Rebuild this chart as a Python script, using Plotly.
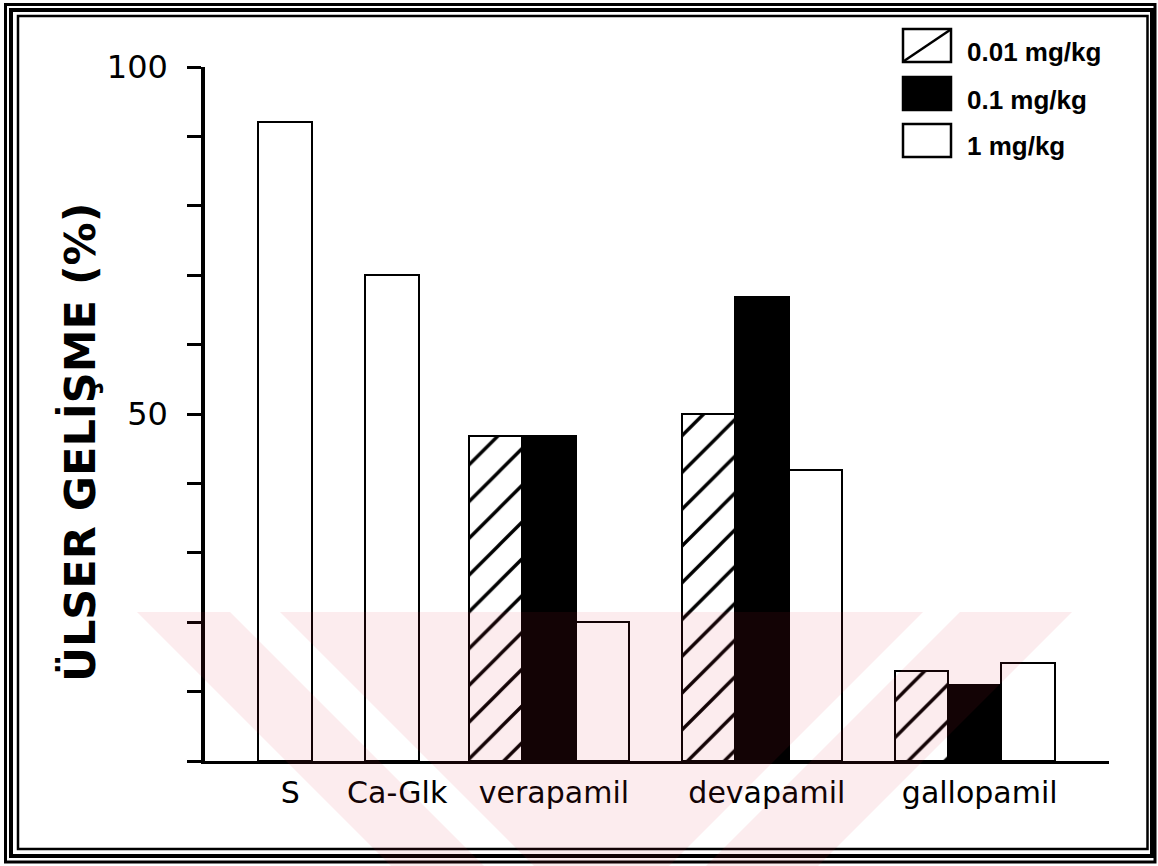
import plotly.graph_objects as go

# ---------------- data ----------------
categories = ["S", "Ca-Glk", "verapamil", "devapamil", "gallopamil"]
series_names = ["0.01 mg/kg", "0.1 mg/kg", "1 mg/kg"]
dose_001 = [None, None, 46.8, 50.0, 13.0]
dose_01 = [None, None, 46.8, 66.9, 11.0]
dose_1 = [92.1, 70.0, 20.0, 41.9, 14.1]
y_tick_values = [0, 10, 20, 30, 40, 50, 60, 70, 80, 90, 100]
y_tick_labels = ["", "", "", "", "", "50", "", "", "", "", "100"]
y_title = "ÜLSER GELİŞME (%)"

# ---------------- layout geometry ----------------
W, H = 1158, 866
L, R, T, B = 205, 49, 67, 105
PW, PH = W - L - R, H - T - B
cat_pos = [1.5, 3.5, 6.43, 10.41, 14.39]   # group centres in bar-width units
x_max = 16.9


def pxx(x):
    return (x - L) / PW


def pxy(y):
    return (H - B - y) / PH


series = [dose_001, dose_01, dose_1]
styles = [
    dict(color="white", pattern=dict(shape="/", size=26, solidity=0.13,
                                     fgcolor="black", fgopacity=1, bgcolor="white",
                                     fillmode="overlay")),
    dict(color="black"),
    dict(color="white"),
]

fig = go.Figure()
for i, (vals, name, st) in enumerate(zip(series, series_names, styles)):
    xs, ys = [], []
    for j, v in enumerate(vals):
        if v is None:
            continue
        single = sum(s[j] is not None for s in series) == 1
        xs.append(cat_pos[j] if single else cat_pos[j] + (i - 1))
        ys.append(v)
    marker = dict(color=st["color"], line=dict(color="black", width=2))
    if "pattern" in st:
        marker["pattern"] = st["pattern"]
    fig.add_trace(go.Bar(x=xs, y=ys, width=1, name=name, marker=marker,
                         showlegend=False, hoverinfo="skip"))

shapes = []
annotations = []

# custom legend
leg_rows = [(29, 62), (77, 110), (124, 157)]
for i, (name, (y0, y1)) in enumerate(zip(series_names, leg_rows)):
    fill = "black" if i == 1 else "white"
    shapes.append(dict(type="rect", xref="paper", yref="paper",
                       x0=pxx(903), x1=pxx(951), y0=pxy(y1), y1=pxy(y0),
                       fillcolor=fill, line=dict(color="black", width=2.5)))
    if i == 0:
        shapes.append(dict(type="line", xref="paper", yref="paper",
                           x0=pxx(904), x1=pxx(950), y0=pxy(y1 - 1), y1=pxy(y0 + 1),
                           line=dict(color="black", width=2.5)))
    annotations.append(dict(xref="paper", yref="paper", x=pxx(965), y=pxy((y0 + y1) / 2 + 6),
                            text="<b>%s</b>" % name, showarrow=False, xanchor="left",
                            yanchor="middle",
                            font=dict(family="Arial, Liberation Sans", size=26, color="black")))

# y-axis title
annotations.append(dict(xref="paper", yref="paper", x=pxx(80), y=pxy(443), text=y_title,
                        textangle=-90, showarrow=False, xanchor="center", yanchor="middle",
                        font=dict(family="DejaVu Sans", size=43, color="black",
                                  weight="bold")))

# frame (triple border)
for (x0, y0, x1, y1, w) in [(5.5, 4.5, 1155, 862, 3), (11, 10, 1152, 856, 4),
                            (18, 16, 1147.5, 849, 2.5)]:
    shapes.append(dict(type="rect", xref="paper", yref="paper",
                       x0=pxx(x0), x1=pxx(x1), y0=pxy(y1), y1=pxy(y0),
                       line=dict(color="black", width=w), fillcolor="rgba(0,0,0,0)"))

# faint background watermark of the scanned page
wm_color = "rgba(222,33,55,0.085)"
wm_polys = [
    [(137, 612), (230, 612), (484, 866), (391, 866)],
    [(280, 612), (923, 612), (669, 866), (534, 866)],
    [(960, 612), (1072, 612), (818, 866), (706, 866)],
]
for poly in wm_polys:
    path = "M " + " L ".join("%.5f,%.5f" % (pxx(a), pxy(b)) for a, b in poly) + " Z"
    shapes.append(dict(type="path", xref="paper", yref="paper", path=path,
                       fillcolor=wm_color, line=dict(width=0), layer="above"))

fig.update_layout(
    width=W, height=H,
    margin=dict(l=L, r=R, t=T, b=B, pad=0),
    paper_bgcolor="white", plot_bgcolor="white",
    barmode="overlay", bargap=0,
    shapes=shapes, annotations=annotations,
    xaxis=dict(range=[0, x_max], showline=True, linecolor="black", linewidth=3,
               tickvals=cat_pos, ticktext=categories, ticks="", showgrid=False,
               zeroline=False, ticklabelstandoff=3, ticklabelshift=5,
               tickfont=dict(family="DejaVu Sans", size=30, color="black")),
    yaxis=dict(range=[0, 100], showline=True, linecolor="black", linewidth=3.5,
               tickvals=y_tick_values, ticktext=y_tick_labels, ticks="outside",
               ticklen=14, tickwidth=3, tickcolor="black", showgrid=False,
               zeroline=False, ticklabelstandoff=13,
               tickfont=dict(family="DejaVu Sans", size=32, color="black")),
)

fig.write_html("out.html", config={"displayModeBar": False},
               post_script="document.body.style.margin='0';document.body.style.overflow='hidden';")
